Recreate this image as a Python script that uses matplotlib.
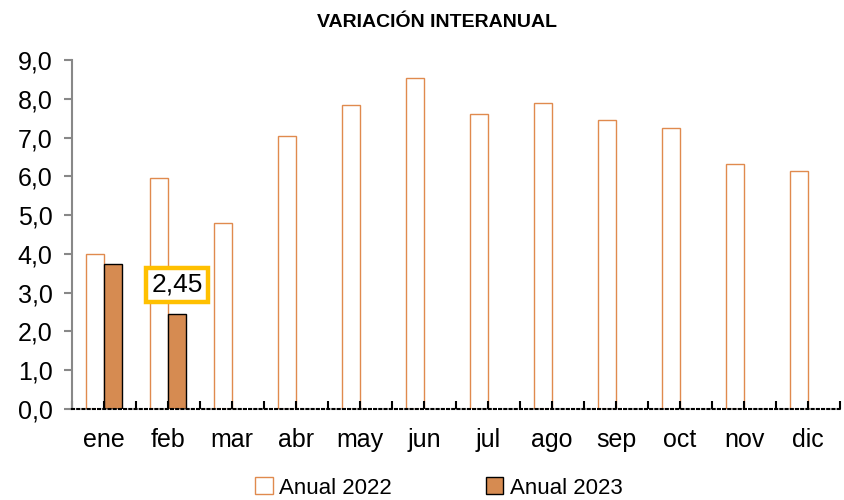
import numpy as np
import matplotlib.pyplot as plt
import matplotlib.ticker as ticker

# Data
meses = ["ene", "feb", "mar", "abr", "may", "jun", "jul", "ago", "sep", "oct", "nov", "dic"]
anual_2022 = [4.0, 5.96, 4.80, 7.04, 7.84, 8.54, 7.61, 7.89, 7.45, 7.25, 6.32, 6.14]
anual_2023 = [3.74, 2.45]
y_ticks = np.arange(0, 10, 1)

plt.rcParams['font.family'] = ['Liberation Sans', 'DejaVu Sans']

fig = plt.figure(figsize=(8.44, 5.0), dpi=100)
ax = fig.add_axes([0.0853, 0.182, 0.91, 0.698])

x = np.arange(len(meses))
w = 0.28
ax.bar(x - w / 2, anual_2022, width=w, facecolor="white", edgecolor="#E08A4E",
       linewidth=1.0, label="Anual 2022")
ax.bar(x[:len(anual_2023)] + w / 2, anual_2023, width=w, facecolor="#D68B51",
       edgecolor="black", linewidth=1.0, label="Anual 2023")

ax.annotate("2,45", xy=(x[1] + w / 2, anual_2023[1]), xytext=(0, 21),
            textcoords="offset points", ha="center", va="center", fontsize=19,
            bbox=dict(boxstyle="square,pad=0.2", facecolor="white",
                      edgecolor="#FFC000", linewidth=3.2))

ax.set_xlim(-0.5, len(meses) - 0.5)
ax.set_ylim(0, 9)
ax.yaxis.set_major_locator(ticker.FixedLocator(y_ticks))
ax.yaxis.set_major_formatter(ticker.FuncFormatter(lambda v, p: f"{v:.1f}".replace(".", ",")))
ax.set_xticks(x)
ax.set_xticklabels(meses)
ax.xaxis.set_minor_locator(ticker.FixedLocator(np.arange(-0.5, len(meses), 1)))

ax.spines['top'].set_visible(False)
ax.spines['right'].set_visible(False)
ax.spines['left'].set_color("#888888")
ax.spines['left'].set_linewidth(1.5)
ax.spines['bottom'].set_linestyle((0, (1, 1.5)))
ax.spines['bottom'].set_linewidth(1.5)

ax.tick_params(axis='y', length=6, color="#888888", width=1.5, labelsize=18, pad=8)
ax.tick_params(axis='x', which='both', length=6, direction='in', width=1.5,
               labelsize=18, pad=14)
for t in ax.xaxis.get_minorticklines() + ax.xaxis.get_majorticklines():
    t.set_linestyle((0, (1, 1.5)))

fig.text(0.518, 0.955, "VARIACIÓN INTERANUAL", fontsize=14, fontweight="bold",
         ha="center", va="center")

fig.legend(loc="lower center", bbox_to_anchor=(0.52, -0.037), ncol=2, frameon=False,
           fontsize=16, handlelength=0.8, handleheight=0.8, handletextpad=0.3,
           columnspacing=4.2)

plt.savefig("out.png", dpi=100)
